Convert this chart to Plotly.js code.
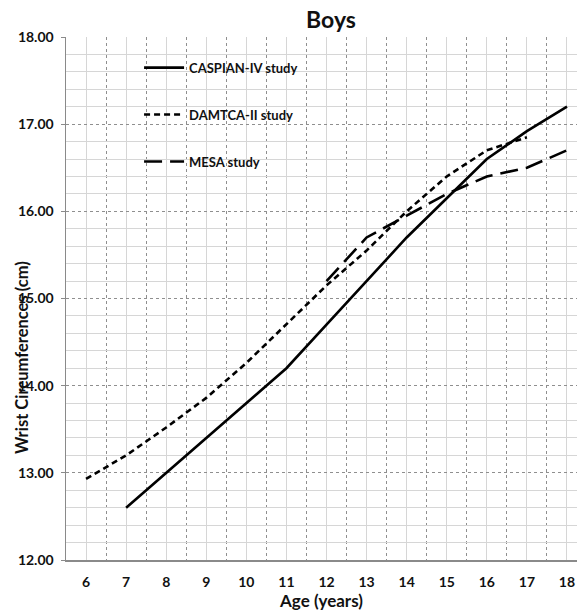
<!DOCTYPE html>
<html>
<head>
<meta charset="utf-8">
<script src="https://cdn.plot.ly/plotly-3.0.1.min.js"></script>
<style>html,body{margin:0;padding:0;background:#fff;}#chart{width:577px;height:611px;}</style>
</head>
<body>
<div id="chart"></div>
<script>
// Data
var ages = [6, 7, 8, 9, 10, 11, 12, 13, 14, 15, 16, 17, 18];
var ageLabels = ['6', '7', '8', '9', '10', '11', '12', '13', '14', '15', '16', '17', '18'];
var caspian = [null, 12.6, 13.0, 13.4, 13.8, 14.2, 14.7, 15.2, 15.7, 16.15, 16.6, 16.92, 17.2];
var damtca = [12.93, 13.2, 13.52, 13.86, 14.26, 14.7, 15.15, 15.55, 16.0, 16.4, 16.7, 16.85, null];
var mesa = [null, null, null, null, null, null, 15.2, 15.7, 15.95, 16.2, 16.4, 16.5, 16.7];
var categoryEdges = [5.5, 6.5, 7.5, 8.5, 9.5, 10.5, 11.5, 12.5, 13.5, 14.5, 15.5, 16.5, 17.5, 18.5];
var seriesNames = ['CASPIAN-IV study', 'DAMTCA-II study', 'MESA study'];

var FONT = 'Lato, "DejaVu Sans", sans-serif';

var traces = [
  {x: ages, y: caspian, name: seriesNames[0], legendgroup: 'a', mode: 'lines',
   line: {color: '#000', width: 2.6, dash: 'solid'}},
  {x: ages, y: damtca, name: seriesNames[1], legendgroup: 'b', mode: 'lines',
   line: {color: '#000', width: 2.6, dash: '6px,4px'}},
  {x: ages, y: mesa, name: seriesNames[2], legendgroup: 'c', mode: 'lines',
   line: {color: '#000', width: 2.6, dash: '18px,8px'}}
];

var layout = {
  width: 577, height: 611,
  margin: {l: 66, r: 0, t: 37, b: 51, pad: 0},
  paper_bgcolor: '#fff', plot_bgcolor: '#fff',
  font: {family: FONT, color: '#111', size: 13, weight: 'bold'},
  title: {text: 'Boys', x: 331 / 577, xref: 'container', xanchor: 'center',
          y: 1 - 20 / 611, yref: 'container', yanchor: 'middle',
          font: {family: FONT, size: 23, weight: 'bold', color: '#111'}},
  showlegend: true,
  legend: {x: 0.143, y: 0.97, xanchor: 'left', yanchor: 'top', bgcolor: 'rgba(0,0,0,0)',
           traceorder: 'grouped', tracegroupgap: 27, itemwidth: 40,
           font: {family: FONT, size: 13, weight: 'bold', color: '#111'}},
  xaxis: {
    range: [5.5, 18.25], tickmode: 'array', tickvals: ages, ticktext: ageLabels,
    showgrid: true, gridcolor: '#d6d6d6', gridwidth: 1, griddash: 'solid',
    minor: {tickmode: 'array', tickvals: categoryEdges, showgrid: true, gridcolor: '#8f8f8f', griddash: 'dot', gridwidth: 1},
    showline: true, linecolor: '#8a8a8a', linewidth: 1.5, ticks: '', zeroline: false,
    tickfont: {family: FONT, size: 14, weight: 'bold', color: '#111'},
    ticklabelstandoff: 9,
    title: {text: 'Age (years)', font: {family: FONT, size: 17, weight: 'bold', color: '#111'}, standoff: 8}
  },
  yaxis: {
    range: [12, 18], dtick: 1, tick0: 12, tickformat: '.2f',
    showgrid: true, gridcolor: '#8f8f8f', griddash: 'dot', gridwidth: 1,
    minor: {dtick: 0.2, showgrid: true, gridcolor: '#d6d6d6', griddash: 'solid', gridwidth: 1},
    showline: true, linecolor: '#8a8a8a', linewidth: 1.5, ticks: 'outside', ticklen: 4, tickcolor: '#8a8a8a',
    zeroline: false,
    tickfont: {family: FONT, size: 14, weight: 'bold', color: '#111'},
    ticklabelstandoff: 4
  },
  annotations: [
    {text: 'Wrist Circumferences (cm)', xref: 'paper', yref: 'paper', x: 0, y: (560 - 358) / 523,
     xshift: -44, xanchor: 'center', yanchor: 'middle', textangle: -90, showarrow: false,
     font: {family: FONT, size: 16.5, weight: 'bold', color: '#111'}}
  ]
};

Plotly.newPlot('chart', traces, layout, {displayModeBar: false, staticPlot: true});
</script>
</body>
</html>
